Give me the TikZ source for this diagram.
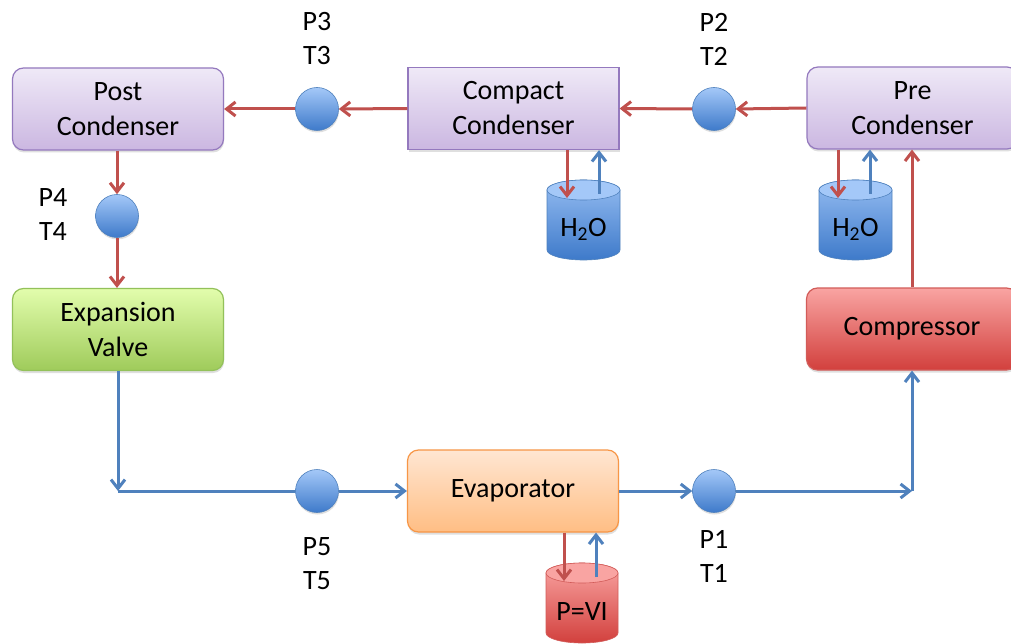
\documentclass[tikz,border=0pt]{standalone}
\usepackage{fontspec}
\setmainfont{Carlito}
\usetikzlibrary{arrows.meta,shadows}
\definecolor{lavT}{HTML}{EFE9F7}
\definecolor{lavB}{HTML}{CBB7E1}
\definecolor{lavD}{HTML}{9479BE}
\definecolor{grnT}{HTML}{E2FDAC}
\definecolor{grnB}{HTML}{9FCB5B}
\definecolor{grnD}{HTML}{93C15A}
\definecolor{orgT}{HTML}{FFE6D2}
\definecolor{orgB}{HTML}{FFBE84}
\definecolor{orgD}{HTML}{F79646}
\definecolor{redT}{HTML}{F9A4A2}
\definecolor{redB}{HTML}{D2403D}
\definecolor{redD}{HTML}{D25C59}
\definecolor{cirT}{HTML}{A4C8F8}
\definecolor{cirB}{HTML}{3E7ACA}
\definecolor{cirD}{HTML}{4F81BD}
\definecolor{arrR}{HTML}{C0504D}
\definecolor{arrB}{HTML}{4F81BD}
\begin{document}
\begin{tikzpicture}[x=1pt,y=-1pt,
  every node/.style={font=\fontsize{28}{35}\selectfont, align=center, text=black},
  unit/.style={draw, line width=1.2pt, minimum width=211pt, minimum height=82pt, inner sep=0pt,
    drop shadow={opacity=0.25, shadow xshift=0.5pt, shadow yshift=-2.5pt}},
  rnd/.style={rounded corners=11pt},
  lav/.style={unit, top color=lavT, bottom color=lavB, draw=lavD},
  grn/.style={unit, rnd, top color=grnT, bottom color=grnB, draw=grnD},
  org/.style={unit, rnd, top color=orgT, bottom color=orgB, draw=orgD},
  redbox/.style={unit, rnd, top color=redT, bottom color=redB, draw=redD},
  sensor/.style={circle, minimum size=43pt, inner sep=0pt, draw=cirD, line width=0.6pt,
    top color=cirT, bottom color=cirB,
    drop shadow={opacity=0.25, shadow xshift=0.5pt, shadow yshift=-2pt}},
  redarr/.style={draw=arrR, line width=3pt, -{Straight Barb[length=9pt,width=14pt]}},
  bluearr/.style={draw=arrB, line width=3pt, -{Straight Barb[length=9pt,width=14pt]}},
  blueline/.style={draw=arrB, line width=3pt},
  bluecyl/.style={top color=cirT!85!cirB, bottom color=cirB, draw=cirD, line width=0.6pt},
  bluetop/.style={fill=cirT, draw=cirD, line width=0.6pt},
  redcyl/.style={top color=redT, bottom color=redB, draw=redD, line width=0.6pt},
  redtop/.style={fill=redT, draw=redD, line width=0.6pt},
  lbl/.style={font=\fontsize{28}{34}\selectfont}
]
\useasboundingbox (0,0) rectangle (1011,644);
\fill[white] (0,0) rectangle (1011,644);

% main units
\node[lav, rnd] (post) at (118,109) {Post\\Condenser};
\node[lav] (compact) at (513.5,108.5) {Compact\\Condenser};
\node[lav, rnd] (pre) at (912.5,108) {Pre\\Condenser};
\node[grn] (exp) at (118,329.5) {Expansion\\Valve};
\node[redbox] (comp) at (912,329) {Compressor};
\node[org] (evap) at (513,491) {Evaporator};

% sensors
\node[sensor] (p3) at (317,109) {};
\node[sensor] (p2) at (714,109) {};
\node[sensor] (p4) at (117,216) {};
\node[sensor] (p5) at (317,491) {};
\node[sensor] (p1) at (714,491) {};

% sensor labels
\node[lbl] (l3) at (317,39) {P3\\T3};
\node[lbl] (l2) at (714,39) {P2\\T2};
\node[lbl] (l4) at (53,215) {P4\\T4};
\node[lbl] (l5) at (317,564) {P5\\T5};
\node[lbl] (l1) at (714,556) {P1\\T1};

% cylinders
\path[bluecyl] (547,190) -- (547,250) arc[start angle=180, end angle=360, x radius=36.5pt, y radius=10pt]
  -- (620,190) arc[start angle=0, end angle=180, x radius=36.5pt, y radius=10pt] -- cycle;
\path[bluetop] (583.5,190) ellipse[x radius=36.5pt, y radius=10pt];
\path[bluecyl] (819,190) -- (819,250) arc[start angle=180, end angle=360, x radius=36.5pt, y radius=10pt]
  -- (892,190) arc[start angle=0, end angle=180, x radius=36.5pt, y radius=10pt] -- cycle;
\path[bluetop] (855.5,190) ellipse[x radius=36.5pt, y radius=10pt];
\path[redcyl] (546,573) -- (546,633) arc[start angle=180, end angle=360, x radius=36pt, y radius=10pt]
  -- (618,573) arc[start angle=0, end angle=180, x radius=36pt, y radius=10pt] -- cycle;
\path[redtop] (582,573) ellipse[x radius=36pt, y radius=10pt];
\node (h1) at (583.5,229) {H\textsubscript{2}O};
\node (h2) at (855.5,229) {H\textsubscript{2}O};
\node (pvi) at (582,612) {P=VI};

% refrigerant loop
\draw[redarr] (pre.west) -- (p2.east);
\draw[redarr] (p2.west) -- (compact.east);
\draw[redarr] (compact.west) -- (p3.east);
\draw[redarr] (p3.west) -- (post.east);
\draw[redarr] (post.south -| p4) -- (p4.north);
\draw[redarr] (p4.south) -- (p4.south |- exp.north);
\coordinate (c1) at (118,491);
\coordinate (c2) at (912,491);
\draw[bluearr] (exp.south) -- (c1);
\draw[blueline] (c1) -- (p5.west);
\draw[bluearr] (p5.east) -- (evap.west);
\draw[bluearr] (evap.east) -- (p1.west);
\draw[bluearr] (p1.east) -- (c2);
\draw[bluearr] (c2) -- (comp.south);
\draw[redarr] (comp.north) -- (comp.north |- pre.south);

% heat exchange arrows
\coordinate (w1in) at (567,198);
\coordinate (w1out) at (599,194);
\coordinate (w2in) at (838,198);
\coordinate (w2out) at (870,194);
\coordinate (w3in) at (564,581);
\coordinate (w3out) at (596,577);
\draw[redarr] (compact.south -| w1in) -- (w1in);
\draw[bluearr] (w1out) -- (w1out |- compact.south);
\draw[redarr] (pre.south -| w2in) -- (w2in);
\draw[bluearr] (w2out) -- (w2out |- pre.south);
\draw[redarr] (evap.south -| w3in) -- (w3in);
\draw[bluearr] (w3out) -- (w3out |- evap.south);
\end{tikzpicture}
\end{document}
